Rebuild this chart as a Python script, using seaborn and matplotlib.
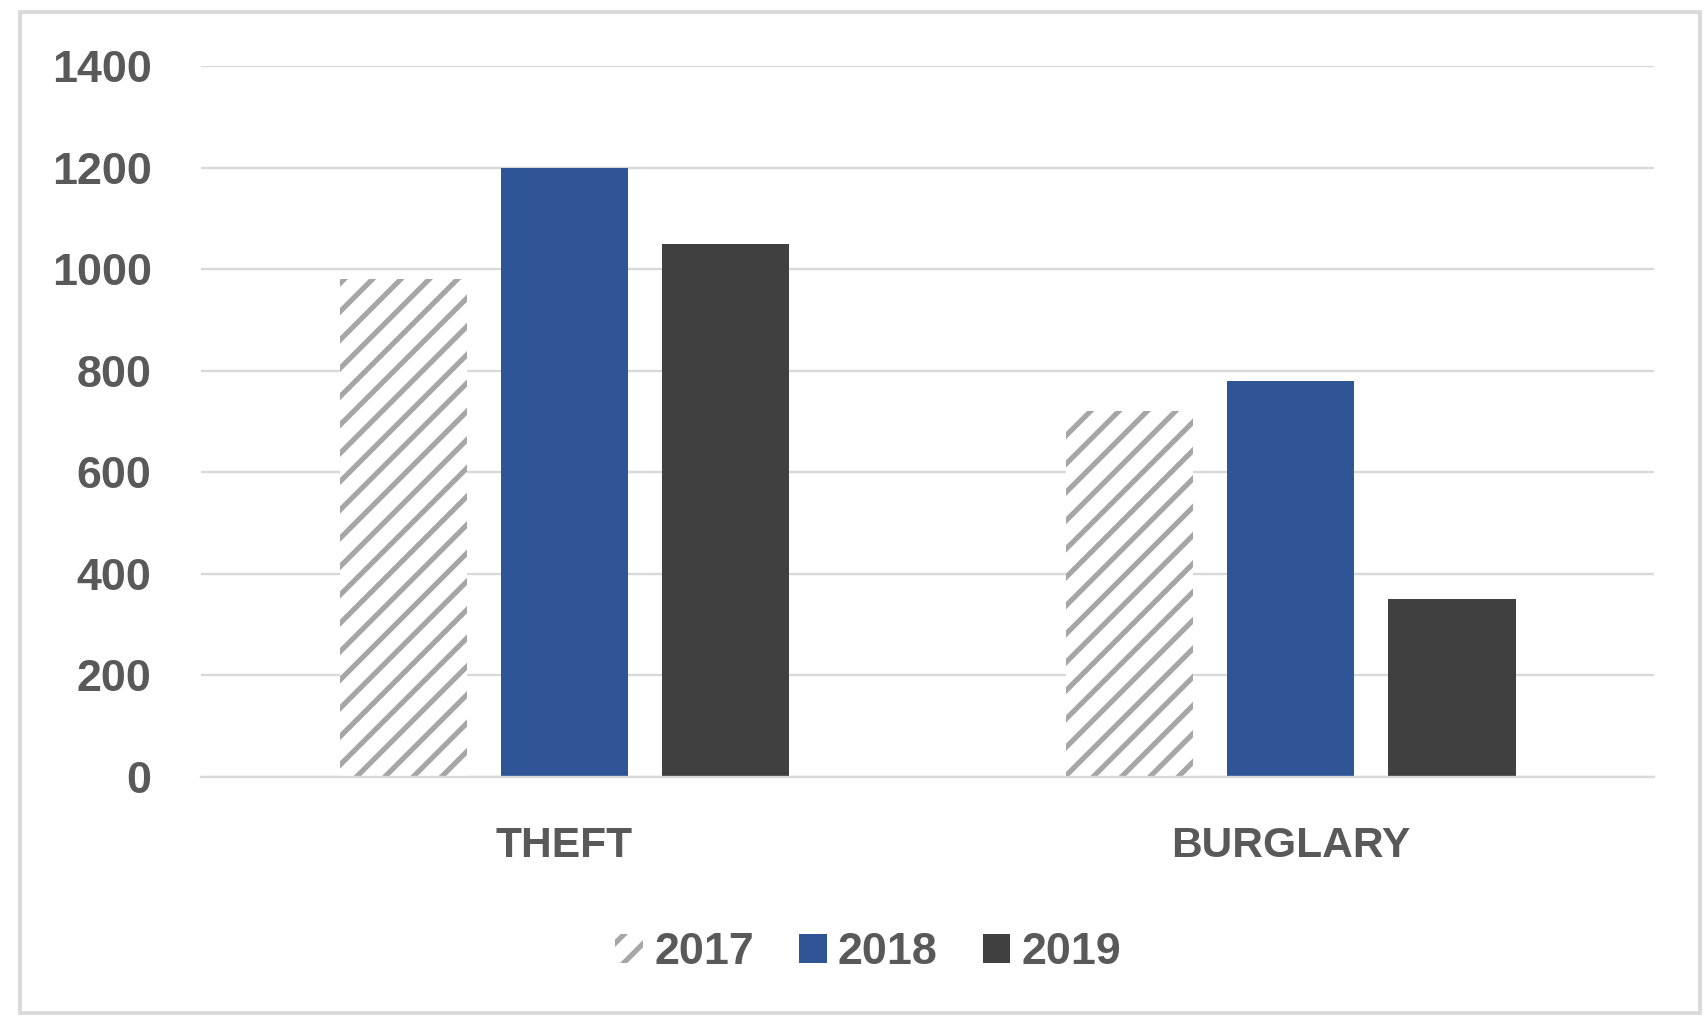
import matplotlib
matplotlib.use('Agg')
import matplotlib.pyplot as plt
import matplotlib.patches as mpatches
import seaborn as sns
import pandas as pd

# data
categories = ['THEFT', 'BURGLARY']
years = ['2017', '2018', '2019']
values_2017 = [980, 720]
values_2018 = [1200, 780]
values_2019 = [1050, 350]
y_ticks = [0, 200, 400, 600, 800, 1000, 1200, 1400]

colors = {'2017': 'white', '2018': '#2F5597', '2019': '#404040'}
hatch_gray = '#A6A6A6'
text_gray = '#595959'
grid_gray = '#D9D9D9'

rows = []
for yr, vals in zip(years, [values_2017, values_2018, values_2019]):
    for cat, v in zip(categories, vals):
        rows.append({'crime': cat, 'year': yr, 'count': v})
df = pd.DataFrame(rows)

sns.set_style('white')
plt.rcParams['font.family'] = ['Liberation Sans', 'DejaVu Sans']
plt.rcParams['hatch.linewidth'] = 2.2

dpi = 170
fig = plt.figure(figsize=(1706 / dpi, 1018 / dpi), dpi=dpi)
ax = fig.add_axes([0.118, 0.237, 0.8515, 0.698])

sns.barplot(data=df, x='crime', y='count', hue='year', order=categories,
            hue_order=years, palette=colors, width=0.666, gap=0.21,
            saturation=1, legend=False, linewidth=0, ax=ax)

# hatch the 2017 bars
for bar in ax.containers[0]:
    bar.set_hatch('//')
    bar.set_edgecolor(hatch_gray)
    bar.set_linewidth(0)

ax.set_ylim(0, 1400)
ax.set_yticks(y_ticks)
ax.set_xlim(-0.5, 1.5)
ax.yaxis.grid(True, color=grid_gray, linewidth=1.0)
ax.set_axisbelow(True)
for s in ['top', 'right', 'left']:
    ax.spines[s].set_visible(False)
ax.spines['bottom'].set_color(grid_gray)
ax.spines['bottom'].set_linewidth(1.0)
ax.tick_params(axis='y', length=0, pad=21, labelsize=19, labelcolor=text_gray)
ax.tick_params(axis='x', length=0, pad=21, labelsize=18, labelcolor=text_gray)
for lbl in ax.get_xticklabels() + ax.get_yticklabels():
    lbl.set_fontweight('bold')
ax.set_xlabel('')
ax.set_ylabel('')

handles = [
    mpatches.Patch(facecolor='white', edgecolor=hatch_gray, hatch='//', linewidth=0, label='2017'),
    mpatches.Patch(facecolor=colors['2018'], linewidth=0, label='2018'),
    mpatches.Patch(facecolor=colors['2019'], linewidth=0, label='2019'),
]
leg = fig.legend(handles=handles, loc='center', bbox_to_anchor=(0.509, 0.064), ncol=3,
                 frameon=False, handlelength=0.62, handleheight=0.62,
                 handletextpad=0.25, columnspacing=1.0,
                 prop={'size': 19, 'weight': 'bold'})
for t in leg.get_texts():
    t.set_color(text_gray)

# outer chart border
fig.patches.append(mpatches.Rectangle((20 / 1706, 1 - 1013 / 1018), 1680 / 1706, 1001 / 1018,
                                      transform=fig.transFigure, fill=False,
                                      edgecolor=grid_gray, linewidth=1.6))

fig.savefig('out.png', dpi=dpi, facecolor='white')
